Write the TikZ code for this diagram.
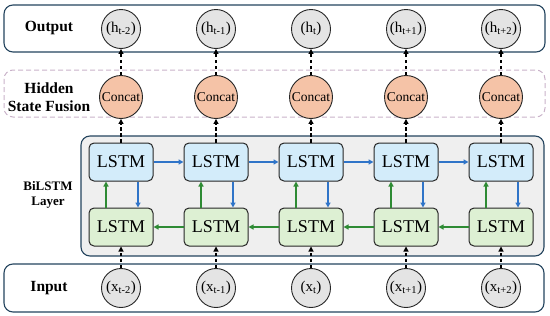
\documentclass[tikz,border=0pt]{standalone}
\usepackage{fontspec}
\setmainfont{Liberation Serif}
\usetikzlibrary{arrows.meta}
\definecolor{frameC}{HTML}{24445E}
\definecolor{grayfill}{HTML}{EFEFEF}
\definecolor{circfill}{HTML}{E4E4E4}
\definecolor{concatfill}{HTML}{F5C3A7}
\definecolor{bluefill}{HTML}{D3ECFA}
\definecolor{greenfill}{HTML}{DDF0D3}
\definecolor{bluearr}{HTML}{2F74C8}
\definecolor{greenarr}{HTML}{2E8B34}
\definecolor{fusionC}{HTML}{C9B2C9}
\tikzset{
  panel/.style={draw=frameC, line width=1.1pt, rounded corners=9pt},
  lab/.style={font=\fontsize{15.5}{18}\selectfont\bfseries, align=center},
  vec/.style={circle, draw=black!85, line width=0.9pt, fill=circfill, minimum size=39pt, inner sep=0pt, font=\fontsize{15}{17}\selectfont},
  concat/.style={circle, draw=black!85, line width=0.9pt, fill=concatfill, minimum size=43pt, inner sep=0pt, font=\fontsize{13.5}{15}\selectfont},
  fwd/.style={draw=black!85, line width=1pt, rounded corners=5pt, fill=bluefill, minimum width=64pt, minimum height=38pt, inner sep=0pt, font=\fontsize{18}{20}\selectfont},
  bwd/.style={fwd, fill=greenfill},
  darr/.style={-{Triangle[length=5pt,width=5pt]}, line width=1.1pt, dash pattern=on 3.5pt off 2.5pt, black},
  barr/.style={-{Triangle[length=5pt,width=5pt]}, line width=1.2pt, bluearr},
  garr/.style={-{Triangle[length=5pt,width=5pt]}, line width=1.2pt, greenarr},
}
\begin{document}
\begin{tikzpicture}[x=1pt,y=-1pt]
\useasboundingbox (0,0) rectangle (550,316);
% panels
\draw[panel] (4,5) rectangle (545,52);
\draw[fusionC, line width=1pt, dash pattern=on 5pt off 3pt, rounded corners=9pt] (4,70) rectangle (545,117);
\draw[panel, fill=grayfill] (81,136) rectangle (544,256);
\draw[panel] (4,264) rectangle (544,312);
% labels
\node[lab] (lout) at (49,28) {Output};
\node[lab] (lfus) at (49,97) {Hidden\\State Fusion};
\node[lab, font=\fontsize{13}{15.5}\selectfont\bfseries] (lbil) at (48,195) {BiLSTM\\Layer};
\node[lab] (lin) at (49,288) {Input};
% columns
\foreach \i/\x/\s in {1/121/t-2, 2/216/t-1, 3/311/t, 4/406/t+1, 5/501/t+2}{
  \node[vec] (h\i) at (\x,29) {(h\textsubscript{\s})};
  \node[concat] (c\i) at (\x,97) {Concat};
  \node[fwd] (f\i) at (\x,162) {LSTM};
  \node[bwd] (b\i) at (\x,227) {LSTM};
  \node[vec] (x\i) at (\x,288) {(x\textsubscript{\s})};
  \draw[darr] (c\i.north) -- (h\i.south);
  \draw[darr] (f\i.north) -- (c\i.south);
  \draw[darr] (x\i.north) -- (b\i.south);
  \draw[garr] ([xshift=-15pt]b\i.north) -- ([xshift=-15pt]f\i.south);
  \draw[barr] ([xshift=17pt]f\i.south) -- ([xshift=17pt]b\i.north);
}
\foreach \i/\j in {1/2,2/3,3/4,4/5}{
  \draw[barr] (f\i.east) -- (f\j.west);
  \draw[garr] (b\j.west) -- (b\i.east);
}
\end{tikzpicture}
\end{document}
